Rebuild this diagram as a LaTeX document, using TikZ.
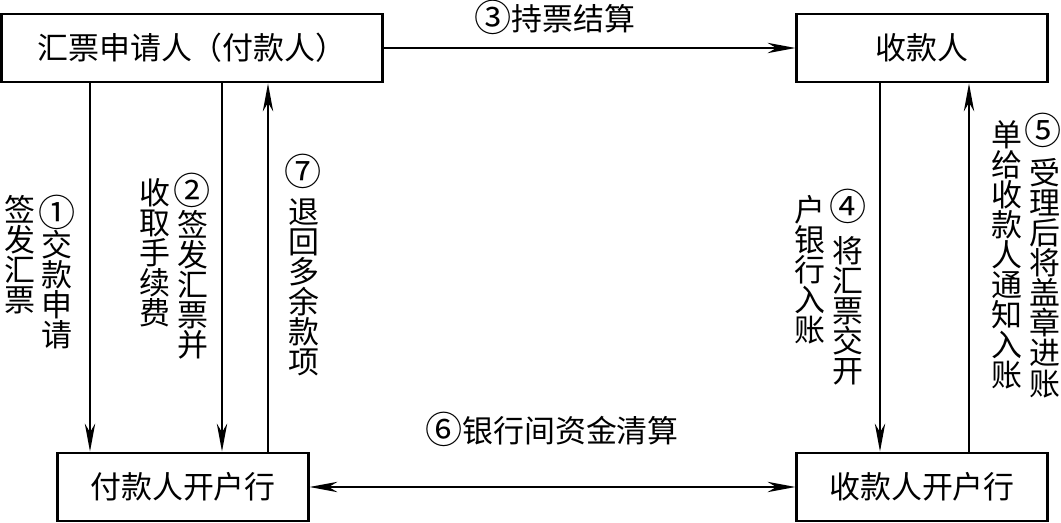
\documentclass[tikz,border=0pt]{standalone}
\usepackage{fontspec}
\usepackage{tikz}
\usetikzlibrary{arrows.meta}
\newfontfamily\cjk{Noto Sans CJK SC}
\newcommand\cnum[1]{\raisebox{-0.03em}{\scalebox{1.2}{#1}}}
\newcommand\vfont{\cjk\fontsize{22}{21.4}\selectfont\lineskiplimit=-10pt\relax}

\begin{document}
\begin{tikzpicture}[x=0.025cm,y=-0.025cm,
  box/.style={draw,line width=2.1pt,inner sep=0pt,minimum height=1.7cm,
    font=\cjk\fontsize{22}{26}\selectfont},
  flow/.style={line width=1.1pt,-{Stealth[length=0.7cm,width=0.26cm,inset=0.22cm]}},
  both/.style={line width=1.1pt,{Stealth[length=0.7cm,width=0.26cm,inset=0.22cm]}-{Stealth[length=0.7cm,width=0.26cm,inset=0.22cm]}},
  lab/.style={inner sep=0pt,font=\cjk\fontsize{22}{26}\selectfont},
  circ/.style={inner sep=0pt,font=\cjk\fontsize{22}{26}\selectfont},
  vlab/.style={inner sep=0pt,anchor=north,align=center,font=\vfont}]
\useasboundingbox (0,0) rectangle (1061,523);

% boxes
\node[box,minimum width=9.5cm] (applicant) at (192,48) {汇票申请人（付款人）};
\node[box,minimum width=6.25cm] (payee) at (922,48) {收款人};
\node[box,minimum width=6.25cm] (paybank) at (183,487) {付款人开户行};
\node[box,minimum width=6.25cm] (recbank) at (922,487) {收款人开户行};

% line positions
\coordinate (x1) at (90,0);
\coordinate (x2) at (222,0);
\coordinate (x7) at (268,0);
\coordinate (x4) at (880,0);
\coordinate (x5) at (969,0);

\draw[flow] (applicant.south -| x1) -- (paybank.north -| x1);
\draw[flow] (applicant.south -| x2) -- (paybank.north -| x2);
\draw[flow] (paybank.north -| x7) -- (applicant.south -| x7);
\draw[flow] (payee.south -| x4) -- (recbank.north -| x4);
\draw[flow] (recbank.north -| x5) -- (payee.south -| x5);
\draw[flow] (applicant.east) -- (payee.west);
\draw[both] (paybank.east) -- (recbank.west);

% labels
\node[lab] (l3) at (555,17) {\cnum{③}持票结算};
\node[lab] (l6) at (552,429) {\cnum{⑥}银行间资金清算};

% step numbers of the vertical labels
\node[circ] (c1) at (57,212) {\scalebox{1.2}{①}};
\node[circ] (c2) at (192,190) {\scalebox{1.2}{②}};
\node[circ] (c7) at (303,171) {\scalebox{1.2}{⑦}};
\node[circ] (c4) at (848,206) {\scalebox{1.2}{④}};
\node[circ] (c5) at (1043,130) {\scalebox{1.2}{⑤}};

\node[vlab] (l1b) at (20,195) {签\\发\\汇\\票};
\node[vlab] (l1a) at (57,230) {交\\款\\申\\请};
\node[vlab] (l2b) at (155,178) {收\\取\\手\\续\\费};
\node[vlab] (l2a) at (193,210) {签\\发\\汇\\票\\并};
\node[vlab] (l7) at (304,198) {退\\回\\多\\余\\款\\项};
\node[vlab] (l4b) at (810,195) {户\\银\\行\\入\\账};
\node[vlab] (l4a) at (848,236) {将\\汇\\票\\交\\开};
\node[vlab] (l5b) at (1007,120) {单\\给\\收\\款\\人\\通\\知\\入\\账};
\node[vlab] (l5a) at (1045,158) {受\\理\\后\\将\\盖\\章\\进\\账};
\end{tikzpicture}
\end{document}
